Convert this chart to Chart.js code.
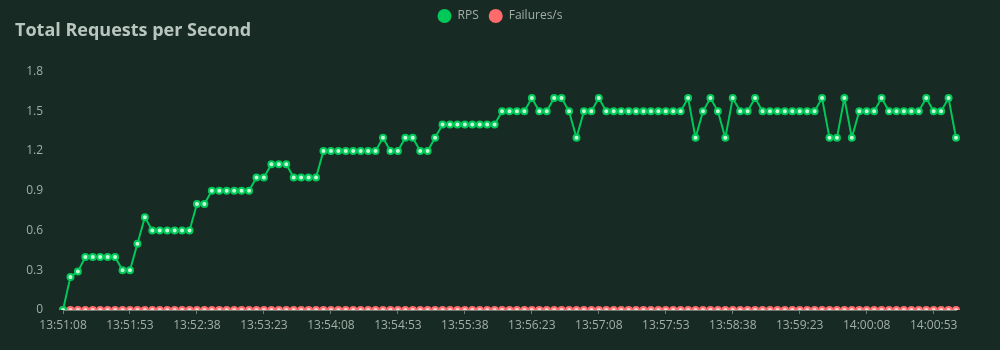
<!DOCTYPE html>
<html>
<head>
<meta charset="utf-8">
<script src="https://cdn.jsdelivr.net/npm/chart.js@4/dist/chart.umd.min.js"></script>
<style>
  html, body { margin: 0; padding: 0; background: #172a23; }
  #wrap { width: 1000px; height: 350px; }
</style>
</head>
<body>
<div id="wrap"><canvas id="rpsChart" width="1000" height="350"></canvas></div>
<script>
// time axis, one sample every 5 s
const times = [
  "13:51:08","13:51:13","13:51:18","13:51:23","13:51:28","13:51:33","13:51:38","13:51:43","13:51:48",
  "13:51:53","13:51:58","13:52:03","13:52:08","13:52:13","13:52:18","13:52:23","13:52:28","13:52:33",
  "13:52:38","13:52:43","13:52:48","13:52:53","13:52:58","13:53:03","13:53:08","13:53:13","13:53:18",
  "13:53:23","13:53:28","13:53:33","13:53:38","13:53:43","13:53:48","13:53:53","13:53:58","13:54:03",
  "13:54:08","13:54:13","13:54:18","13:54:23","13:54:28","13:54:33","13:54:38","13:54:43","13:54:48",
  "13:54:53","13:54:58","13:55:03","13:55:08","13:55:13","13:55:18","13:55:23","13:55:28","13:55:33",
  "13:55:38","13:55:43","13:55:48","13:55:53","13:55:58","13:56:03","13:56:08","13:56:13","13:56:18",
  "13:56:23","13:56:28","13:56:33","13:56:38","13:56:43","13:56:48","13:56:53","13:56:58","13:57:03",
  "13:57:08","13:57:13","13:57:18","13:57:23","13:57:28","13:57:33","13:57:38","13:57:43","13:57:48",
  "13:57:53","13:57:58","13:58:03","13:58:08","13:58:13","13:58:18","13:58:23","13:58:28","13:58:33",
  "13:58:38","13:58:43","13:58:48","13:58:53","13:58:58","13:59:03","13:59:08","13:59:13","13:59:18",
  "13:59:23","13:59:28","13:59:33","13:59:38","13:59:43","13:59:48","13:59:53","13:59:58","14:00:03",
  "14:00:08","14:00:13","14:00:18","14:00:23","14:00:28","14:00:33","14:00:38","14:00:43","14:00:48",
  "14:00:53","14:00:58","14:01:03","14:01:08"
];

const rps = [
  0, 0.25, 0.29, 0.4, 0.4, 0.4, 0.4, 0.4, 0.3, 0.3,
  0.5, 0.7, 0.6, 0.6, 0.6, 0.6, 0.6, 0.6, 0.8, 0.8,
  0.9, 0.9, 0.9, 0.9, 0.9, 0.9, 1.0, 1.0, 1.1, 1.1,
  1.1, 1.0, 1.0, 1.0, 1.0, 1.2, 1.2, 1.2, 1.2, 1.2,
  1.2, 1.2, 1.2, 1.3, 1.2, 1.2, 1.3, 1.3, 1.2, 1.2,
  1.3, 1.4, 1.4, 1.4, 1.4, 1.4, 1.4, 1.4, 1.4, 1.5,
  1.5, 1.5, 1.5, 1.6, 1.5, 1.5, 1.6, 1.6, 1.5, 1.3,
  1.5, 1.5, 1.6, 1.5, 1.5, 1.5, 1.5, 1.5, 1.5, 1.5,
  1.5, 1.5, 1.5, 1.5, 1.6, 1.3, 1.5, 1.6, 1.5, 1.3,
  1.6, 1.5, 1.5, 1.6, 1.5, 1.5, 1.5, 1.5, 1.5, 1.5,
  1.5, 1.5, 1.6, 1.3, 1.3, 1.6, 1.3, 1.5, 1.5, 1.5,
  1.6, 1.5, 1.5, 1.5, 1.5, 1.5, 1.6, 1.5, 1.5, 1.6, 1.3
];

const failures = [
  0, 0, 0, 0, 0, 0, 0, 0, 0, 0,
  0, 0, 0, 0, 0, 0, 0, 0, 0, 0,
  0, 0, 0, 0, 0, 0, 0, 0, 0, 0,
  0, 0, 0, 0, 0, 0, 0, 0, 0, 0,
  0, 0, 0, 0, 0, 0, 0, 0, 0, 0,
  0, 0, 0, 0, 0, 0, 0, 0, 0, 0,
  0, 0, 0, 0, 0, 0, 0, 0, 0, 0,
  0, 0, 0, 0, 0, 0, 0, 0, 0, 0,
  0, 0, 0, 0, 0, 0, 0, 0, 0, 0,
  0, 0, 0, 0, 0, 0, 0, 0, 0, 0,
  0, 0, 0, 0, 0, 0, 0, 0, 0, 0,
  0, 0, 0, 0, 0, 0, 0, 0, 0, 0, 0
];

const yTicks = [0, 0.3, 0.6, 0.9, 1.2, 1.5, 1.8];
const labelEvery = 9; // one label every 45 s

const bg = "#172a23";
const green = "#00c95a";
const red = "#ff6b6b";
const textGrey = "#a3aea8";

const bgPlugin = {
  id: "bg",
  beforeDraw(chart) {
    const c = chart.ctx;
    c.save();
    c.fillStyle = bg;
    c.fillRect(0, 0, chart.width, chart.height);
    c.restore();
  }
};

new Chart(document.getElementById("rpsChart"), {
  type: "line",
  data: {
    labels: times,
    datasets: [
      {
        label: "RPS",
        data: rps,
        borderColor: green,
        backgroundColor: green,
        borderWidth: 2,
        pointRadius: 3,
        pointBorderWidth: 2,
        pointBorderColor: green,
        pointBackgroundColor: "#c8f7d8",
        tension: 0
      },
      {
        label: "Failures/s",
        data: failures,
        borderColor: red,
        backgroundColor: red,
        borderWidth: 2,
        pointRadius: 3,
        pointBorderWidth: 2,
        pointBorderColor: red,
        pointBackgroundColor: "#ffd0d0",
        tension: 0
      }
    ]
  },
  options: {
    responsive: false,
    animation: false,
    layout: { padding: { left: 15, right: 15, top: 0, bottom: 0 } },
    plugins: {
      legend: {
        position: "top",
        weight: 1000,
        labels: {
          usePointStyle: true,
          pointStyle: "circle",
          pointStyleWidth: 14,
          boxHeight: 10,
          color: textGrey,
          font: { family: "Open Sans", size: 12 },
          padding: 10,
          generateLabels: (chart) => chart.data.datasets.map((ds, i) => ({
            text: ds.label,
            fillStyle: ds.borderColor,
            strokeStyle: ds.borderColor,
            lineWidth: 0,
            pointStyle: "circle",
            fontColor: textGrey,
            hidden: !chart.isDatasetVisible(i),
            datasetIndex: i
          }))
        }
      },
      title: {
        display: true,
        text: "Total Requests per Second",
        align: "start",
        weight: 500,
        color: "#b9c5bf",
        font: { family: "Open Sans", size: 18, weight: "bold" },
        padding: { top: -12, bottom: 30 }
      },
      tooltip: { enabled: false }
    },
    scales: {
      x: {
        type: "category",
        offset: false,
        grid: {
          drawOnChartArea: false,
          drawTicks: true,
          tickLength: 4,
          tickColor: (ctx) => (ctx.index % labelEvery === 0 ? "#6f7c76" : "rgba(0,0,0,0)")
        },
        border: { display: true, color: "#6f7c76" },
        ticks: {
          autoSkip: false,
          maxRotation: 0,
          padding: 4,
          color: textGrey,
          font: { family: "Open Sans", size: 12 },
          callback: (v, i) => (i % labelEvery === 0 ? times[i] : "")
        },
        afterFit: (s) => { s.height = 40; }
      },
      y: {
        min: 0,
        max: 1.8,
        afterBuildTicks: (s) => { s.ticks = yTicks.map((v) => ({ value: v })); },
        grid: { display: false },
        border: { display: false },
        ticks: {
          padding: 12,
          color: textGrey,
          font: { family: "Open Sans", size: 12 },
          callback: (v) => String(v)
        },
        afterFit: (s) => { s.width = 48; }
      },
      // empty right-hand spacer so the legend centres on the full width
      spacer: {
        type: "linear",
        position: "right",
        grid: { display: false },
        border: { display: false },
        ticks: { display: false },
        afterFit: (s) => { s.width = 29; }
      }
    }
  },
  plugins: [bgPlugin]
});
</script>
</body>
</html>
